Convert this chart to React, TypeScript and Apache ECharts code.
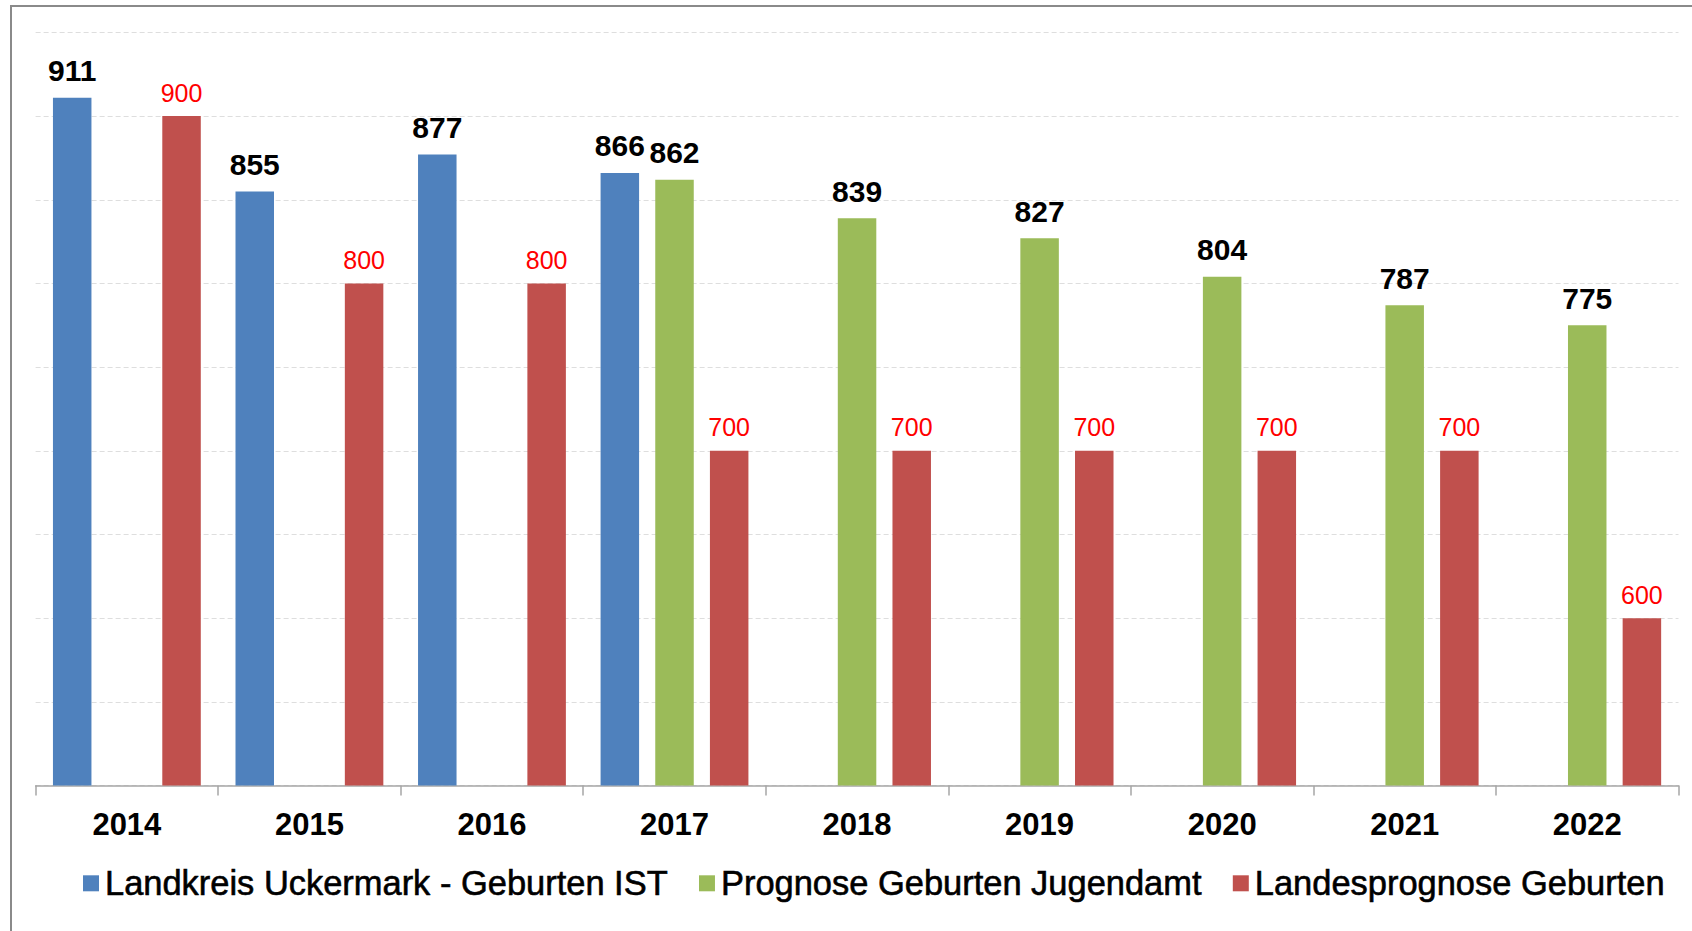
import React, { useEffect, useRef } from "react";
import * as echarts from "echarts";

const years = ["2014", "2015", "2016", "2017", "2018", "2019", "2020", "2021", "2022"];
const istValues = [911, 855, 877, 866, null, null, null, null, null];
const jugendamtValues = [null, null, null, 862, 839, 827, 804, 787, 775];
const landesValues = [900, 800, 800, 700, 700, 700, 700, 700, 600];
const seriesNames = [
  "Landkreis Uckermark - Geburten IST",
  "Prognose Geburten Jugendamt",
  "Landesprognose Geburten",
];

const FONT = "'Liberation Sans', Arial, sans-serif";

export default function App() {
  const ref = useRef<HTMLDivElement>(null);
  useEffect(() => {
    document.body.style.margin = "0";
    const chart = echarts.init(ref.current!, null, { renderer: "svg" });
    const boldLabel = {
      show: true,
      position: "top",
      distance: 12,
      color: "#000",
      fontWeight: "bold",
      fontSize: 30,
      fontFamily: FONT,
    };
    chart.setOption({
      animation: false,
      backgroundColor: "#fff",
      textStyle: { fontFamily: FONT },
      graphic: [
        {
          type: "rect",
          shape: { x: 11, y: 6, width: 1720, height: 960 },
          style: { fill: "none", stroke: "#8a8a8a", lineWidth: 2 },
          silent: true,
        },
      ],
      grid: { left: 35.6, right: 13.5, top: 32.4, bottom: 145.4 },
      legend: {
        left: 83,
        top: 866,
        padding: 0,
        itemWidth: 16,
        itemHeight: 16,
        itemGap: 31,
        icon: "rect",
        textStyle: {
          fontSize: 34.45,
          color: "#000",
          fontFamily: FONT,
          textBorderColor: "#000",
          textBorderWidth: 0.6,
          padding: [0, 0, 0, 1],
        },
        data: seriesNames,
      },
      xAxis: {
        type: "category",
        data: years,
        axisLine: { lineStyle: { color: "#a6a6a6", width: 1.5 } },
        axisTick: { show: true, length: 10, lineStyle: { color: "#a6a6a6", width: 1.5 } },
        axisLabel: { fontSize: 31, fontWeight: "bold", color: "#000", margin: 23, fontFamily: FONT },
      },
      yAxis: {
        type: "value",
        min: 500,
        max: 950,
        interval: 50,
        axisLabel: { show: false },
        axisLine: { show: false },
        axisTick: { show: false },
        splitLine: { show: true, lineStyle: { color: "#dedede", type: [5, 3], width: 1 } },
      },
      series: [
        {
          name: seriesNames[0],
          type: "bar",
          data: istValues,
          barWidth: 38.5,
          barGap: "42%",
          itemStyle: { color: "#4F81BD" },
          label: boldLabel,
        },
        {
          name: seriesNames[1],
          type: "bar",
          data: jugendamtValues,
          barWidth: 38.5,
          barGap: "42%",
          itemStyle: { color: "#9BBB59" },
          label: boldLabel,
        },
        {
          name: seriesNames[2],
          type: "bar",
          data: landesValues,
          barWidth: 38.5,
          barGap: "42%",
          itemStyle: { color: "#C0504D" },
          label: {
            show: true,
            position: "top",
            distance: 11,
            color: "#FF0000",
            fontSize: 25,
            fontFamily: FONT,
          },
        },
      ],
    });
    return () => chart.dispose();
  }, []);
  return (
    <div
      ref={ref}
      style={{ position: "absolute", left: 0, top: 0, width: 1692, height: 931 }}
    />
  );
}
